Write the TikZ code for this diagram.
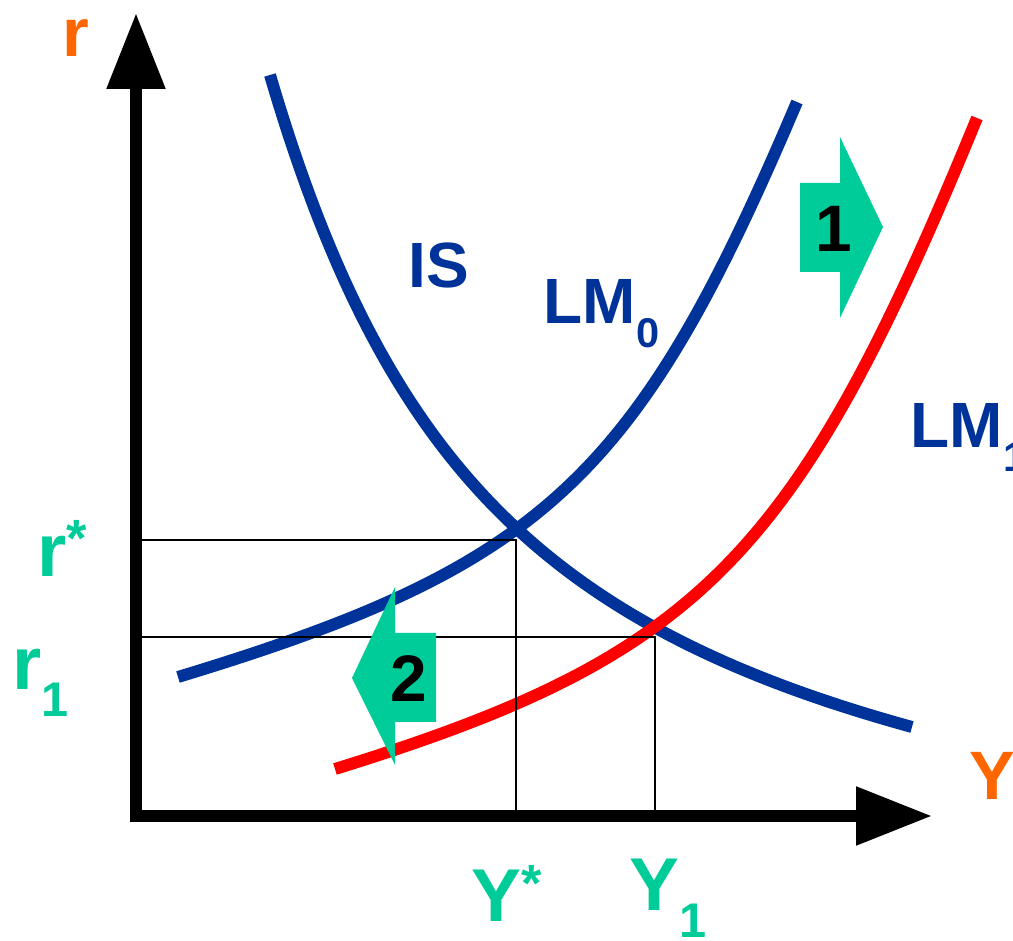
\documentclass[tikz,border=0pt]{standalone}
\usepackage{fontspec}
\setmainfont{Liberation Sans}
\usepackage{tkz-euclide}
\usetikzlibrary{arrows.meta}
\definecolor{curveblue}{RGB}{0,51,153}
\definecolor{curvered}{RGB}{255,0,0}
\definecolor{shiftgreen}{RGB}{0,204,153}
\definecolor{axisorange}{RGB}{255,102,0}
\newcommand{\lsub}[1]{\raisebox{-0.36em}{\scalebox{0.65}{#1}}}
\newcommand{\lsup}[1]{\raisebox{0.28em}{\scalebox{0.7}{#1}}}

\begin{document}
\begin{tikzpicture}[
  curve/.style={line width=3.4pt},
  guide/.style={line width=0.6pt,black},
  axis/.style={line width=3.4pt,
    {Triangle[length=0.76cm,width=0.56cm]}-{Triangle[length=0.76cm,width=0.56cm]}},
  txt/.style={inner sep=0pt,anchor=base west},
  axislabel/.style={txt,text=axisorange,font=\bfseries\fontsize{19.5}{20}\selectfont},
  eqlabel/.style={txt,text=shiftgreen,font=\bfseries\fontsize{21.3}{22}\selectfont},
  curvelabel/.style={txt,text=curveblue,font=\bfseries\fontsize{18.2}{19}\selectfont},
  shiftlabel/.style={inner sep=0pt,font=\bfseries\fontsize{18.7}{19}\selectfont}]
  \useasboundingbox (0,0) rectangle (10.13,9.41);
  \tkzDefPoints{1.36/9.28/T,1.36/1.25/O,9.32/1.25/X,5.16/4.01/E,6.55/3.04/F}
  \tkzDefPoints{1.36/4.01/R0,1.36/3.04/R1,5.16/1.25/Y0,6.55/1.25/Y1}

  \draw[curve,curveblue] (2.70,8.66) .. controls (3.84,4.78) and (5.45,3.15) .. (9.12,2.14);
  \draw[curve,curveblue] (1.78,2.64) .. controls (5.44,3.75) and (6.37,4.62) .. (7.97,8.39);
  \draw[curve,curvered] (3.35,1.72) .. controls (7.00,2.85) and (7.96,3.82) .. (9.77,8.23);

  \draw[axis] (T) -- (O) -- (X);
  \tkzDrawSegments[guide](R0,E E,Y0 R1,F F,Y1)

  \fill[shiftgreen] (8.00,7.58) -- (8.40,7.58) -- (8.40,8.04) -- (8.83,7.14)
    -- (8.40,6.23) -- (8.40,6.69) -- (8.00,6.69) -- cycle;
  \fill[shiftgreen] (4.36,3.08) -- (3.95,3.08) -- (3.95,3.54) -- (3.52,2.63)
    -- (3.95,1.76) -- (3.95,2.19) -- (4.36,2.19) -- cycle;
  \node[shiftlabel] (one) at (8.34,7.12) {1};
  \node[shiftlabel] (two) at (4.09,2.62) {2};

  \node[axislabel] (r) at (0.62,8.84) {r};
  \node[axislabel] (Y) at (9.69,1.41) {Y};
  \node[eqlabel] (rstar) at (0.37,3.64) {r\lsup{*}};
  \node[eqlabel] (rone) at (0.12,2.51) {r\lsub{1}};
  \node[eqlabel] (Ystar) at (4.71,0.19) {Y\lsup{*}};
  \node[eqlabel] (Yone) at (6.29,0.30) {Y\lsub{1}};
  \node[curvelabel] (IS) at (4.08,6.53) {IS};
  \node[curvelabel] (LMzero) at (5.43,6.17) {LM\lsub{0}};
  \node[curvelabel] (LMone) at (9.10,4.93) {LM\lsub{1}};
\end{tikzpicture}
\end{document}
